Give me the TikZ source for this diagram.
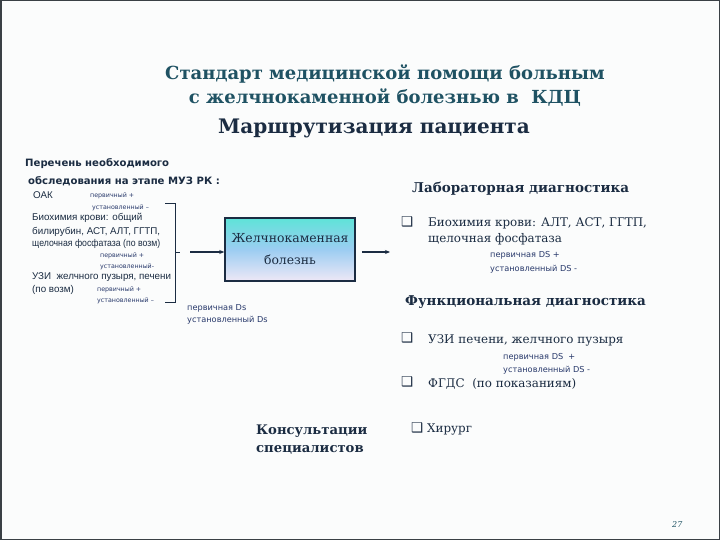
\documentclass[tikz,border=0pt]{standalone}
\usepackage{fontspec}
\usepackage{graphicx}
\setmainfont{DejaVu Serif}
\setsansfont{Liberation Sans}
\newfontfamily\symfont{DejaVu Sans}
\newfontfamily\hdrfont{DejaVu Sans}
\usetikzlibrary{arrows.meta}
\definecolor{tealdark}{HTML}{1F5263}
\definecolor{navy}{HTML}{1B2C42}
\definecolor{smallblue}{HTML}{27386A}
\definecolor{boxtop}{HTML}{5EE3D8}
\definecolor{boxmid}{HTML}{9CCDF2}
\definecolor{boxbot}{HTML}{EEE8F6}
\definecolor{frame}{HTML}{3A4045}
\definecolor{bg}{HTML}{FBFCFC}
\tikzset{
  txt/.style={anchor=base west, inner sep=0pt, text=navy},
  ttl/.style={anchor=base, inner sep=0pt, text=tealdark, font=\bfseries\fontsize{18}{21}\selectfont},
  big/.style={anchor=base, inner sep=0pt, text=navy, font=\bfseries\fontsize{20}{24}\selectfont},
  hdr/.style={txt, font=\hdrfont\bfseries\fontsize{10.1}{12}\selectfont},
  sans/.style={txt, font=\sffamily\fontsize{9.8}{11}\selectfont},
  tiny/.style={txt, text=smallblue, font=\hdrfont\fontsize{6.3}{8}\selectfont},
  tinyr/.style={txt, text=smallblue, font=\hdrfont\fontsize{8.2}{9}\selectfont},
  sect/.style={txt, font=\bfseries\fontsize{13.5}{16}\selectfont},
  body/.style={txt, font=\fontsize{11.9}{14}\selectfont},
  cons/.style={txt, font=\bfseries\fontsize{13.2}{16}\selectfont},
  cb/.style={txt, font=\symfont\bfseries\fontsize{13.5}{15}\selectfont},
  arr/.style={-{Stealth[length=5pt,width=4pt]}, line width=1.3pt, draw=navy},
}
\begin{document}
\begin{tikzpicture}[x=1pt,y=-1pt]
\fill[bg] (0,0) rectangle (720,540);
\useasboundingbox (0,0) rectangle (720,540);
\draw[frame, line width=1.5pt] (0.75,0.75) rectangle (719.25,539.25);

% titles
\node[ttl] (t1) at (385,80) {Стандарт медицинской помощи больным};
\node[ttl] (t2) at (385,104) {с желчнокаменной болезнью в\ \ КДЦ};
\node[big] (t3) at (374,134) {Маршрутизация пациента};

% left column
\node[hdr] (h1) at (25,167) {Перечень необходимого};
\node[hdr] (h2) at (28,185) {обследования на этапе МУЗ РК :};
\node[sans] (oak) at (33,199) {ОАК};
\node[tiny] (s1a) at (90,198) {первичный +};
\node[tiny] (s1b) at (92,210) {установленный –};
\node[sans] (b1) at (32,221) {Биохимия крови: общий};
\node[sans] (b2) at (32,234) {билирубин, АСТ, АЛТ, ГГТП,};
\node[sans] (b3) at (32,246) {\scalebox{0.89}[1]{щелочная фосфатаза (по возм)}};
\node[tiny] (s2a) at (100,257) {первичный +};
\node[tiny] (s2b) at (100,268) {установленный-};
\node[sans] (u1) at (32,279) {УЗИ\ \ желчного пузыря, печени};
\node[sans] (u2) at (32,292) {(по возм)};
\node[tiny] (s3a) at (97,291) {первичный +};
\node[tiny] (s3b) at (97,302) {установленный –};

% bracket
\draw[navy, line width=0.8pt] (165,203) -- (175,203) -- (175,302) -- (165,302);
\draw[navy, line width=0.8pt] (175,252) -- (180,252);
\coordinate (brtip) at (190,252);

% central box
\node[draw=navy, line width=1.5pt, top color=boxtop, bottom color=boxbot, middle color=boxmid,
      minimum width=130pt, minimum height=63pt, inner sep=0pt, align=center,
      font=\fontsize{12.4}{22}\selectfont, text=navy] (box) at (290,249.5)
      {Желчнокаменная\\болезнь};
\draw[arr] (brtip) -- (brtip -| box.west);
\coordinate (labend) at (390,252);
\draw[arr] ([xshift=6pt]box.east |- labend) -- (labend);

\node[tinyr] (ds1) at (187,310) {первичная Ds};
\node[tinyr] (ds2) at (187,322) {установленный Ds};

% right column
\node[sect] (lab) at (412,193) {Лабораторная диагностика};
\node[cb] (c1) at (401,226) {❑};
\node[body] (l1) at (428,226) {Биохимия крови: АЛТ, АСТ, ГГТП,};
\node[body] (l2) at (428,242) {щелочная фосфатаза};
\node[tinyr] (l3) at (490,258) {первичная DS +};
\node[tinyr] (l4) at (490,271) {установленный DS -};

\node[sect] (fun) at (405,305) {Функциональная диагностика};
\node[cb] (c2) at (401,342) {❑};
\node[body] (f1) at (428,343) {УЗИ печени, желчного пузыря};
\node[tinyr] (f2) at (503,359) {первичная DS\ \ +};
\node[tinyr] (f3) at (503,372) {установленный DS -};
\node[cb] (c3) at (401,386) {❑};
\node[body] (f4) at (428,387) {ФГДС\ \ (по показаниям)};

\node[cons] (k1) at (256,434) {Консультации};
\node[cons] (k2) at (256,452) {специалистов};
\node[cb] (c4) at (411,432) {❑};
\node[body] (hir) at (427,432) {Хирург};

\node[txt, text=tealdark, font=\itshape\fontsize{8}{9}\selectfont] (pg) at (672,527) {27};
\end{tikzpicture}
\end{document}
